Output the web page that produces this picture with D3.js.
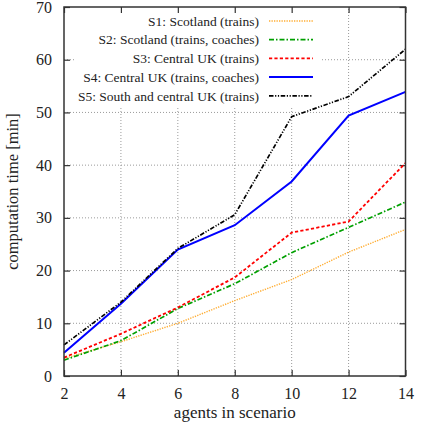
<!DOCTYPE html>
<html>
<head>
<meta charset="utf-8">
<script src="https://cdn.jsdelivr.net/npm/d3@7"></script>
<style>
  body { margin: 0; background: #fff; }
</style>
</head>
<body>
<div id="chart"></div>
<script>
// agents per scenario (x values)
const agents = [2, 4, 6, 8, 10, 12, 14];

// computation time in minutes, one array per scenario
const s1 = [3.3, 6.5, 10.0, 14.3, 18.3, 23.5, 27.8];
const s2 = [3.0, 6.7, 12.8, 17.5, 23.4, 28.2, 33.0];
const s3 = [3.5, 8.0, 13.0, 18.7, 27.2, 29.3, 40.4];
const s4 = [4.4, 13.7, 24.0, 28.6, 36.9, 49.4, 53.9];
const s5 = [5.9, 14.0, 24.2, 30.6, 49.2, 53.0, 62.0];

const seriesNames = [
    "S1: Scotland (trains)",
    "S2: Scotland (trains, coaches)",
    "S3: Central UK (trains)",
    "S4: Central UK (trains, coaches)",
    "S5: South and central UK (trains)"
];

const xTicks = [2, 4, 6, 8, 10, 12, 14];
const yTicks = [0, 10, 20, 30, 40, 50, 60, 70];

var W = 421, H = 426;
var margin = {top: 7, right: 15, bottom: 50, left: 64};
var serif = "'Liberation Serif', 'DejaVu Serif', serif";

var styles = [
    {color: "#ffad33", dash: "1.3,1.2", width: 1.4},
    {color: "#00a000", dash: "5,2,1.5,2", width: 1.7},
    {color: "#ff0000", dash: "3.2,2.2", width: 1.8},
    {color: "#0000ff", dash: null, width: 2},
    {color: "#000000", dash: "4.5,1.6,1.2,1.6,1.2,1.6", width: 1.7}
];

var data = [s1, s2, s3, s4, s5].map(function(vals) {
    return vals.map(function(v, i) { return {x: agents[i], y: v}; });
});

var svg = d3.select("#chart").append("svg")
    .attr("width", W)
    .attr("height", H);

var x = d3.scaleLinear().domain([2, 14]).range([margin.left, W - margin.right - 0.5]);
var y = d3.scaleLinear().domain([0, 70]).range([H - margin.bottom, margin.top]);

// grid
var grid = svg.append("g").attr("class", "grid");
grid.selectAll(".gx")
    .data(xTicks.slice(1, -1))
    .enter().append("line")
    .attr("x1", function(d) { return x(d); })
    .attr("x2", function(d) { return x(d); })
    .attr("y1", y(0))
    .attr("y2", y(70))
    .style("stroke", "#9a9a9a")
    .style("stroke-width", 1)
    .style("stroke-dasharray", "1,2");
grid.selectAll(".gy")
    .data(yTicks.slice(1, -1))
    .enter().append("line")
    .attr("x1", x(2))
    .attr("x2", x(14))
    .attr("y1", function(d) { return y(d); })
    .attr("y2", function(d) { return y(d); })
    .style("stroke", "#9a9a9a")
    .style("stroke-width", 1)
    .style("stroke-dasharray", "1,2");

// legend box hides the grid behind it
svg.append("rect")
    .attr("x", 74)
    .attr("y", 9)
    .attr("width", 246)
    .attr("height", 97)
    .style("fill", "#fff");

// axes (gnuplot style: ticks inward, mirrored)
var tickLen = 6;
var xAxisB = d3.axisBottom(x).tickValues(xTicks).tickSize(-tickLen).tickPadding(12);
var xAxisT = d3.axisTop(x).tickValues(xTicks).tickSize(-tickLen).tickFormat("");
var yAxisL = d3.axisLeft(y).tickValues(yTicks).tickSize(-tickLen).tickPadding(12);
var yAxisR = d3.axisRight(y).tickValues(yTicks).tickSize(-tickLen).tickFormat("");

function styleAxis(g) {
    g.attr("font-family", serif).attr("font-size", 16);
    g.select(".domain").remove();
    g.selectAll(".tick line").style("stroke", "#333").style("stroke-width", 1.2);
    g.selectAll(".tick text").style("fill", "#222");
}

svg.append("g").attr("transform", "translate(0," + y(0) + ")").call(xAxisB).call(styleAxis);
svg.append("g").attr("transform", "translate(0," + y(70) + ")").call(xAxisT).call(styleAxis);
svg.append("g").attr("transform", "translate(" + x(2) + ",0)").call(yAxisL).call(styleAxis);
svg.append("g").attr("transform", "translate(" + x(14) + ",0)").call(yAxisR).call(styleAxis);

// lines
var line = d3.line()
    .x(function(d) { return x(d.x); })
    .y(function(d) { return y(d.y); });

svg.selectAll(".series")
    .data(data)
    .enter().append("path")
    .attr("class", "series")
    .attr("d", line)
    .style("fill", "none")
    .style("stroke", function(d, i) { return styles[i].color; })
    .style("stroke-width", function(d, i) { return styles[i].width; })
    .style("stroke-dasharray", function(d, i) { return styles[i].dash; });

// frame
svg.append("rect")
    .attr("x", x(2))
    .attr("y", y(70))
    .attr("width", x(14) - x(2))
    .attr("height", y(0) - y(70))
    .style("fill", "none")
    .style("stroke", "#333")
    .style("stroke-width", 1.5);

// legend
var legend = svg.selectAll(".legend")
    .data(seriesNames)
    .enter().append("g")
    .attr("class", "legend")
    .attr("transform", function(d, i) { return "translate(0," + (21 + i * 18.7) + ")"; });

legend.append("text")
    .attr("x", 259)
    .attr("dy", "0.35em")
    .attr("text-anchor", "end")
    .attr("font-family", serif)
    .attr("font-size", 13.5)
    .attr("fill", "#222")
    .text(function(d) { return d; });

legend.append("line")
    .attr("x1", 269)
    .attr("x2", 313)
    .style("stroke", function(d, i) { return styles[i].color; })
    .style("stroke-width", function(d, i) { return styles[i].width; })
    .style("stroke-dasharray", function(d, i) { return styles[i].dash; });

// axis titles
svg.append("text")
    .attr("x", (x(2) + x(14)) / 2)
    .attr("y", 418)
    .attr("text-anchor", "middle")
    .attr("font-family", serif)
    .attr("font-size", 17)
    .attr("fill", "#222")
    .text("agents in scenario");

svg.append("text")
    .attr("transform", "translate(18," + (y(35)) + ") rotate(-90)")
    .attr("text-anchor", "middle")
    .attr("font-family", serif)
    .attr("font-size", 16.5)
    .attr("fill", "#222")
    .text("computation time [min]");
</script>
</body>
</html>
